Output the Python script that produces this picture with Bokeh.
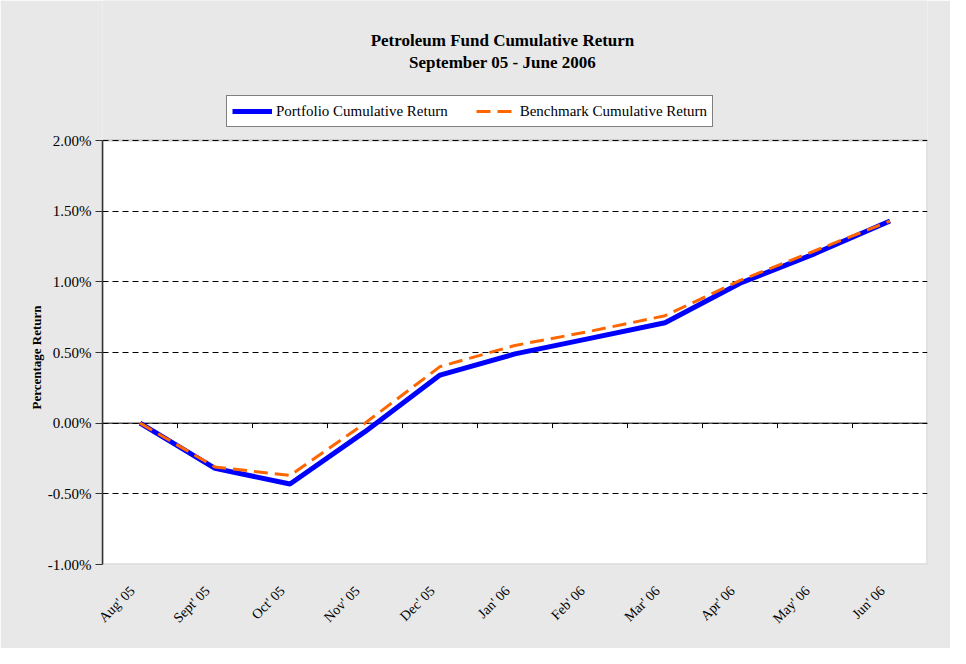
import math
from bokeh.plotting import figure
from bokeh.models import (Range1d, FixedTicker, Span, Legend, LegendItem, Label,
                          BoxAnnotation, NumeralTickFormatter, CustomJSTickFormatter,
                          Title)
from bokeh.embed import file_html
from bokeh.resources import INLINE

# ---- data (percent) ----
months = ["Aug' 05", "Sept' 05", "Oct' 05", "Nov' 05", "Dec' 05", "Jan' 06",
          "Feb' 06", "Mar' 06", "Apr' 06", "May' 06", "Jun' 06"]
portfolio = [0.00, -0.32, -0.43, -0.06, 0.34, 0.49, 0.60, 0.71, 0.99, 1.20, 1.43]
benchmark = [0.00, -0.31, -0.37, 0.00, 0.40, 0.55, 0.65, 0.76, 1.01, 1.22, 1.43]
y_ticks = [-1.00, -0.50, 0.00, 0.50, 1.00, 1.50, 2.00]
title_lines = ["Petroleum Fund Cumulative Return", "September 05 - June 2006"]
series_names = ["Portfolio Cumulative Return", "Benchmark Cumulative Return"]
y_axis_title = "Percentage Return"

# ---- style / layout ----
SERIF = "Liberation Serif"
BG = "#e8e8e8"
BLUE = "#0000ff"
ORANGE = "#ff6600"
W, H = 950, 648
LEFT, RIGHT, BOTTOM = 102, 23, 84       # borders around the plot area (px)
PLOT_TOP = 140                          # top of the white plot area (px)
FRAME_H = H - BOTTOM                    # frame reaches the top of the canvas
PLOT_H = FRAME_H - PLOT_TOP
FRAME_W = W - LEFT - RIGHT

n = len(months)
xs = [i + 0.5 for i in range(n)]
bounds = [float(i) for i in range(1, n)]
port = [v / 100 for v in portfolio]
bench = [v / 100 for v in benchmark]
yt = [v / 100 for v in y_ticks]

UPP = (yt[-1] - yt[0]) / PLOT_H          # y units per pixel
XPP = n / FRAME_W                        # x units per pixel
y_end = yt[0] + FRAME_H * UPP


def hx(px):
    """page-pixel x -> data x (for header placement)"""
    return (px - LEFT) * XPP


def hy(py):
    """page-pixel y -> data y (for header placement)"""
    return yt[-1] + (PLOT_TOP - py) * UPP


p = figure(width=W, height=H, output_backend="svg", toolbar_location=None,
           x_range=Range1d(0, n), y_range=Range1d(yt[0], y_end),
           min_border_left=LEFT, min_border_right=RIGHT, min_border_top=0,
           min_border_bottom=BOTTOM, border_fill_color=BG,
           background_fill_color=BG, outline_line_color=None)

# white plot area
p.add_layout(BoxAnnotation(left=0, right=n, bottom=yt[0], top=yt[-1],
                           fill_color="white", fill_alpha=1,
                           line_color="#808080", line_width=2.5, level="image"))

p.xgrid.grid_line_color = None
p.ygrid.ticker = FixedTicker(ticks=yt)
p.ygrid.grid_line_color = "black"
p.ygrid.grid_line_dash = "6 4"
p.ygrid.grid_line_width = 1

p.add_layout(Span(location=0, dimension="width", line_color="black",
                  line_width=1, level="underlay"))

# tick marks on the zero line at category boundaries
p.segment(x0=bounds, y0=[0] * len(bounds), x1=bounds,
          y1=[-5 * UPP] * len(bounds), line_color="black", line_width=1)

r1 = p.line(xs, port, line_color=BLUE, line_width=5)
r2 = p.line(xs, bench, line_color=ORANGE, line_width=3, line_dash="14 7")

# y axis
ya = p.yaxis[0]
ya.bounds = (yt[0], yt[-1])
ya.ticker = FixedTicker(ticks=yt)
ya.formatter = NumeralTickFormatter(format="0.00%")
ya.axis_line_color = "#333333"
ya.axis_line_width = 1.5
ya.major_tick_line_color = "#333333"
ya.major_tick_out = 7
ya.major_tick_in = 0
ya.minor_tick_line_color = None
ya.major_label_text_font = SERIF
ya.major_label_text_font_size = "15px"
ya.major_label_text_color = "black"
ya.major_label_standoff = 4

# y axis title, centred on the white plot area
p.add_layout(Title(text=y_axis_title, align="left", offset=155, standoff=2,
                   vertical_align="bottom", text_font=SERIF,
                   text_font_size="13px", text_font_style="bold",
                   text_color="black"), "left")

# x axis (labels only, slightly left of each category centre)
xa = p.xaxis[0]
xa.ticker = FixedTicker(ticks=[x - 0.1 for x in xs])
xa.formatter = CustomJSTickFormatter(args=dict(labels=months),
                                     code="return labels[Math.floor(tick)];")
xa.major_label_orientation = math.pi / 4
xa.axis_line_color = None
xa.major_tick_line_color = None
xa.minor_tick_line_color = None
xa.major_label_standoff = 18
xa.major_label_text_font = SERIF
xa.major_label_text_font_size = "14px"
xa.major_label_text_color = "black"

# titles
for txt, py in zip(title_lines, [40, 62]):
    p.add_layout(Label(x=hx(502), y=hy(py), text=txt, text_align="center",
                       text_baseline="middle", text_font=SERIF,
                       text_font_size="17px", text_font_style="bold",
                       text_color="black"))

# legend
legend = Legend(items=[LegendItem(label=series_names[0], renderers=[r1]),
                       LegendItem(label=series_names[1], renderers=[r2])],
                orientation="horizontal", location=(124, FRAME_H - 127),
                border_line_color="black", border_line_width=1,
                background_fill_color="white", background_fill_alpha=1,
                label_text_font=SERIF, label_text_font_size="15px",
                label_text_color="black",
                glyph_width=40, glyph_height=20, label_height=20,
                label_standoff=4, spacing=28, padding=5, margin=0)
p.add_layout(legend)

open("out.html", "w").write(file_html(p, INLINE))
